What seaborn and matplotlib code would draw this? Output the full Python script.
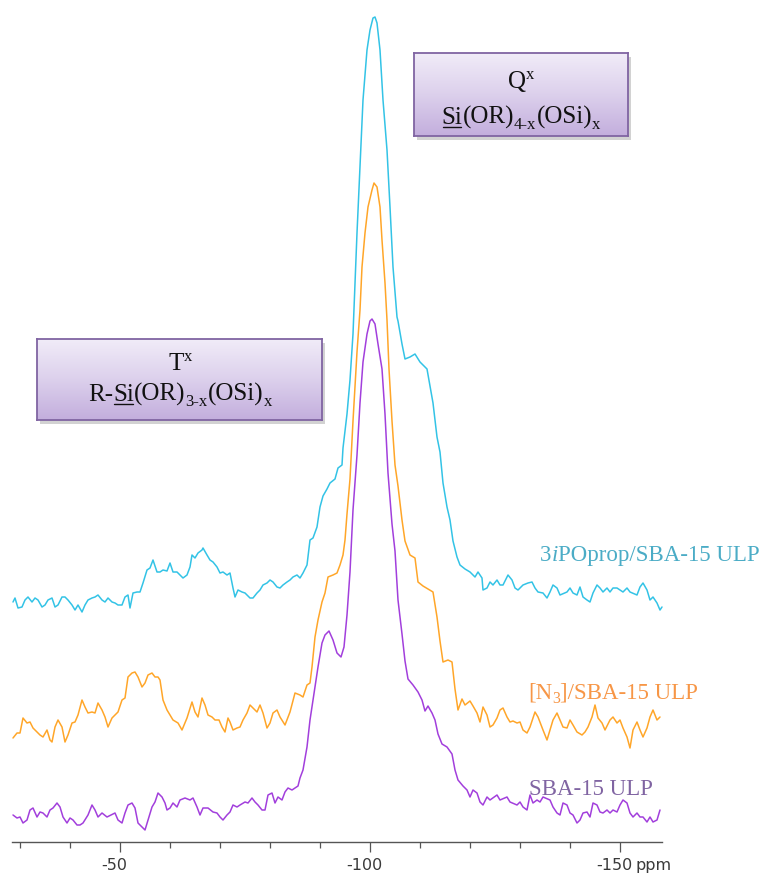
import numpy as np
import matplotlib
matplotlib.use("Agg")
import matplotlib.pyplot as plt
import seaborn as sns
from matplotlib.colors import LinearSegmentedColormap
from matplotlib.patches import Rectangle
from matplotlib.lines import Line2D
from matplotlib.transforms import ScaledTranslation

# ---------------- data (chemical shift in ppm, intensity in a.u.) ----------------
ppm_cyan = [-28.6, -29.0, -29.6, -30.4, -31.0, -31.6, -32.4, -33.0, -33.6, -34.4, -35.0, -35.6, -36.4, -37.0,
            -37.6, -38.4, -39.0, -39.6, -40.4, -41.0, -41.6, -42.4, -43.0, -43.6, -44.4, -45.0, -45.6, -46.4,
            -47.0, -47.6, -48.4, -49.0, -49.6, -50.4, -51.0, -51.6, -52.0, -52.6, -53.4, -54.0, -54.6, -55.4,
            -56.0, -56.6, -57.4, -58.0, -58.6, -59.4, -60.0, -60.6, -61.4, -62.0, -62.6, -63.4, -64.0, -64.4,
            -65.0, -65.6, -66.4, -66.6, -67.4, -68.0, -68.6, -69.4, -70.0, -70.6, -71.4, -72.0, -72.6, -73.0,
            -73.6, -74.4, -75.0, -76.0, -76.6, -77.4, -78.0, -78.6, -79.4, -80.0, -80.6, -81.4, -82.0, -82.6,
            -83.4, -84.0, -84.6, -85.4, -86.0, -86.6, -87.4, -88.0, -88.6, -89.4, -90.0, -90.6, -91.4, -92.0,
            -93.0, -93.6, -94.4, -94.6, -95.4, -96.0, -96.6, -97.4, -98.0, -98.6, -99.4, -100.0, -100.6, -101.0,
            -101.4, -102.0, -102.6, -103.4, -104.0, -104.6, -105.4, -105.6, -106.4, -107.0, -108.0, -109.0,
            -110.0, -110.6, -111.4, -112.0, -112.6, -113.4, -114.0, -114.6, -115.4, -116.0, -116.6, -117.4,
            -118.0, -119.0, -120.0, -121.0, -121.6, -122.4, -122.6, -123.4, -124.0, -124.6, -125.4, -126.0,
            -126.6, -127.6, -128.4, -129.0, -129.6, -130.6, -131.6, -132.4, -133.0, -133.6, -134.6, -135.4,
            -136.0, -136.6, -137.4, -138.0, -139.4, -140.0, -140.6, -141.4, -142.0, -142.6, -143.4, -144.0,
            -144.6, -145.4, -146.0, -146.6, -147.4, -148.0, -148.6, -149.4, -150.0, -150.6, -151.4, -152.0,
            -153.4, -154.0, -154.6, -155.4, -156.0, -156.6, -157.4, -158.0, -158.4]
int_cyan = [-2, 2, -8, -7, 0, 3, -2, 2, 0, -7, -5, 0, 2, -7,
            -5, 3, 3, 0, -5, -10, -5, -12, -5, 0, 2, 3, 5, 0,
            -2, 2, -2, -3, -5, -5, 3, 5, -8, 7, 8, 8, 17, 30,
            32, 40, 28, 28, 30, 29, 37, 28, 28, 25, 22, 25, 33, 45,
            42, 47, 50, 52, 45, 40, 38, 33, 27, 28, 25, 27, 12, 3,
            10, 8, 7, 2, 2, 7, 10, 15, 17, 20, 18, 13, 12, 15,
            18, 20, 23, 25, 22, 27, 35, 60, 62, 73, 93, 104, 111, 117,
            121, 132, 135, 152, 186, 220, 266, 367, 433, 500, 550, 570, 582, 583,
            577, 550, 500, 450, 393, 333, 283, 279, 256, 241, 243, 246,
            238, 235, 231, 214, 197, 163, 148, 117, 93, 80, 59, 43,
            35, 31, 28, 23, 28, 22, 10, 12, 18, 15, 20, 15,
            15, 25, 20, 12, 10, 15, 17, 18, 12, 8, 7, 2,
            8, 15, 12, 5, 8, 12, 7, 5, 13, 3, 0, -2,
            7, 15, 12, 8, 12, 8, 12, 12, 10, 8, 12, 8,
            5, 13, 17, 10, 0, 3, -3, -10, -7]

ppm_orange = [-28.6, -29.4, -30.0, -30.6, -31.4, -32.0, -32.6, -33.4, -34.0, -34.6, -35.4, -36.0, -36.4, -37.0,
              -37.6, -38.4, -39.0, -39.6, -40.4, -41.0, -41.6, -42.4, -43.0, -43.6, -44.4, -45.0, -45.6, -46.4,
              -47.0, -47.6, -48.4, -49.0, -49.6, -50.4, -51.0, -51.6, -52.4, -53.0, -53.6, -54.4, -55.0, -55.6,
              -56.4, -57.0, -57.6, -58.0, -58.6, -59.4, -60.0, -60.6, -61.6, -62.4, -63.4, -64.4, -65.0, -65.6,
              -66.4, -67.0, -67.6, -68.4, -69.0, -69.8, -70.4, -71.0, -71.6, -72.0, -72.6, -73.4, -74.0, -74.6,
              -75.4, -76.0, -76.6, -77.4, -78.0, -78.6, -79.4, -80.0, -80.6, -81.4, -82.0, -83.0, -84.0, -85.0,
              -86.0, -86.6, -87.4, -88.0, -88.4, -89.0, -89.6, -90.4, -91.0, -91.6, -92.6, -93.4, -94.0, -94.6,
              -95.0, -95.4, -96.0, -96.6, -97.4, -98.0, -98.4, -99.0, -99.6, -100.4, -100.8, -101.4, -102.0,
              -102.4, -103.0, -103.4, -103.8, -104.4, -105.0, -105.6, -106.4, -107.0, -108.0, -109.0, -109.6,
              -110.6, -111.6, -112.6, -113.4, -114.0, -114.6, -115.6, -116.4, -117.0, -117.6, -118.4, -119.0,
              -120.0, -120.6, -121.4, -122.0, -122.6, -123.4, -124.0, -124.6, -125.4, -126.0, -126.6, -127.4,
              -128.0, -128.6, -129.4, -130.0, -130.6, -131.4, -132.0, -133.0, -133.6, -134.6, -135.4, -136.0,
              -136.6, -137.4, -138.0, -138.6, -139.4, -140.0, -140.6, -141.4, -142.4, -143.0, -143.6, -144.4,
              -145.0, -145.6, -146.4, -147.0, -148.0, -148.6, -149.4, -150.0, -150.6, -151.4, -152.0, -152.6,
              -153.4, -154.0, -154.6, -155.4, -156.0, -156.6, -157.4, -158.0]
int_orange = [-13, -8, -8, 7, 2, 3, -3, -7, -10, -12, -5, -15, -17, -2,
              5, -2, -17, -10, 2, 3, 10, 25, 18, 12, 13, 12, 22, 15,
              8, -2, 7, 10, 13, 25, 27, 48, 52, 53, 48, 38, 42, 50,
              52, 48, 48, 45, 25, 15, 10, 5, 2, -5, 7, 23, 13, 8,
              27, 20, 10, 8, 5, 5, -2, -7, 7, 3, -5, -3, -2, 5,
              12, 20, 17, 13, 20, 12, -3, 2, 12, 15, 8, 0, 13, 32,
              30, 28, 40, 42, 58, 88, 105, 123, 132, 148, 150, 152, 160, 170,
              185, 211, 246, 304, 373, 415, 458, 492, 518, 535, 542, 538, 518,
              485, 442, 405, 356, 304, 260, 239, 205, 184, 170, 167, 143,
              139, 136, 133, 108, 84, 63, 65, 63, 36, 15, 26, 20,
              24, 19, 12, 3, 18, 10, -2, 0, 7, 15, 17, 8,
              3, 4, 2, 3, -5, -8, -2, 13, 8, -5, -15, -5,
              5, 12, 5, -2, -3, 5, 0, -7, -10, -7, -2, 8,
              20, 7, 2, -5, 5, 8, 2, 5, -3, -12, -23, -5,
              3, -5, -12, -3, 8, 15, 5, 8]

ppm_purple = [-28.6, -29.4, -30.0, -30.6, -31.4, -32.0, -32.6, -33.4, -34.0, -34.6, -35.4, -36.0, -36.6, -37.4,
              -38.0, -38.6, -39.4, -40.0, -40.6, -41.4, -42.0, -42.6, -43.6, -44.4, -45.0, -45.6, -46.4, -47.4,
              -48.2, -49.0, -49.6, -50.4, -51.0, -51.6, -52.4, -53.0, -53.6, -54.4, -55.0, -55.6, -56.4, -57.0,
              -57.6, -58.4, -59.0, -59.4, -60.0, -60.6, -61.4, -62.0, -63.0, -64.0, -64.6, -65.4, -66.0, -66.6,
              -67.6, -68.6, -69.4, -70.0, -70.6, -71.4, -72.0, -72.6, -73.4, -74.0, -75.0, -75.6, -76.4, -77.0,
              -77.6, -78.4, -79.0, -79.6, -80.4, -81.0, -81.6, -82.4, -83.0, -83.6, -84.4, -85.0, -85.6, -86.0,
              -86.6, -87.4, -88.0, -88.6, -89.6, -90.4, -91.0, -91.8, -92.6, -93.4, -94.2, -94.8, -95.4, -96.0,
              -96.6, -97.4, -98.0, -98.6, -99.4, -100.0, -100.4, -101.0, -101.6, -102.4, -103.0, -103.6, -104.4,
              -105.0, -105.6, -106.4, -107.0, -107.6, -108.6, -109.6, -110.4, -111.0, -111.6, -112.4, -113.0,
              -113.6, -114.4, -115.4, -116.4, -117.0, -117.6, -118.6, -119.4, -120.0, -120.6, -121.4, -122.0,
              -122.6, -123.4, -124.0, -125.4, -126.0, -127.4, -128.0, -129.4, -130.0, -130.6, -131.4, -132.0,
              -132.6, -133.4, -134.0, -134.6, -136.0, -136.6, -137.4, -138.0, -138.6, -139.4, -140.0, -140.6,
              -141.4, -142.0, -142.6, -143.4, -144.0, -144.6, -145.4, -146.0, -146.6, -147.4, -148.0, -148.6,
              -149.4, -150.0, -150.6, -151.4, -152.0, -152.6, -153.4, -154.0, -154.6, -155.4, -156.0, -156.6,
              -157.4, -158.0]
int_purple = [-3, -6, -5, -11, -8, 2, 4, -5, 0, -1, -5, 2, 4, 9,
              5, -5, -11, -6, -8, -13, -13, -11, -3, 7, 2, -5, -1, -5,
              -3, -1, -8, -11, -1, 7, 9, 4, -11, -15, -18, -8, 5, 10,
              19, 15, 9, 2, 4, 9, 5, 12, 14, 12, 14, 5, -3, 4,
              4, 0, -1, -5, -8, -3, 0, 7, 5, 7, 10, 9, 14, 10,
              7, 2, 2, 17, 19, 9, 15, 12, 20, 24, 22, 24, 26, 34,
              42, 65, 92, 112, 145, 169, 177, 181, 172, 159, 155, 165, 197, 240,
              302, 357, 409, 450, 478, 491, 493, 488, 468, 443, 398, 339, 288,
              261, 212, 178, 151, 133, 127, 120, 112, 101, 106, 99, 92,
              78, 68, 65, 58, 42, 32, 26, 22, 15, 22, 19, 10,
              7, 15, 12, 17, 12, 15, 10, 7, 10, 5, 2, 17,
              9, 12, 10, 15, 12, 5, -1, -3, 9, 7, -1, -3,
              -11, -8, -1, 0, -5, 9, 7, 0, -1, 2, -1, 2,
              0, 7, 12, 9, -1, -5, -1, -5, -5, -10, -5, -10,
              -8, 2]

series_names = ["3iPOprop/SBA-15 ULP", "[N3]/SBA-15 ULP", "SBA-15 ULP"]
major_ticks = [-50, -100, -150]
major_labels = ["-50", "-100", "-150"]
minor_ticks = [-30, -40, -60, -70, -80, -90, -110, -120, -130, -140]

# ---------------- style ----------------
W, H = 773, 874
sns.set_theme(style="white")
plt.rcParams["font.family"] = ["DejaVu Sans"]

c_cyan, c_orange, c_purple = "#33C3E6", "#FFA629", "#A23FDC"
t_cyan, t_orange, t_purple = "#4BACC6", "#F79646", "#8064A2"
offsets = [242, 117, 30]

fig = plt.figure(figsize=(W / 100, H / 100), dpi=100)
fig.patch.set_facecolor("white")
ax = fig.add_axes([0, 0, 1, 1])
ax.patch.set_visible(False)

for ppm, vals, col, off in [(ppm_cyan, int_cyan, c_cyan, offsets[0]),
                            (ppm_orange, int_orange, c_orange, offsets[1]),
                            (ppm_purple, int_purple, c_purple, offsets[2])]:
    sns.lineplot(x=ppm, y=np.asarray(vals) + off, ax=ax, color=col, lw=1.1,
                 sort=False, estimator=None, legend=False)

ax.set_xlim(-26, -180.6)
ax.set_ylim(-32, 842)
for s in ["left", "right", "top"]:
    ax.spines[s].set_visible(False)
ax.spines["bottom"].set_position(("data", 0))
ax.spines["bottom"].set_bounds(-28.4, -158.4)
ax.spines["bottom"].set_color("#555555")
ax.spines["bottom"].set_linewidth(1.0)
ax.set_yticks([])
ax.set_xticks(major_ticks)
ax.set_xticklabels(major_labels)
ax.set_xticks(minor_ticks, minor=True)
ax.tick_params(axis="x", which="major", direction="out", length=7.2, width=0.9,
               color="#555555", pad=4, labelsize=11.5, labelcolor="#3a3a3a", bottom=True)
ax.tick_params(axis="x", which="minor", direction="out", length=4.3, width=0.9,
               color="#555555", bottom=True)
ax.set_xlabel("")
ax.set_ylabel("")
for lab in ax.get_xticklabels():
    lab.set_transform(lab.get_transform() + ScaledTranslation(-6 / 100, 0, fig.dpi_scale_trans))
ax.annotate("ppm", xy=(-150, 0), xycoords="data", xytext=(11, -(7.2 + 4)),
            textcoords="offset points", ha="left", va="top", fontsize=11.5, color="#3a3a3a")

renderer = fig.canvas.get_renderer()


def rich(pieces, cx, base, color, ha="center"):
    """pieces: (text, size, dy_px, underline, style)"""
    objs, widths = [], []
    for s, size, dy, ul, st in pieces:
        t = fig.text(0, 0, s, fontsize=size, family="Liberation Serif", style=st,
                     va="baseline", ha="left", color=color, zorder=5)
        widths.append(t.get_window_extent(renderer).width)
        objs.append(t)
    total = sum(widths)
    x = cx - total / 2 if ha == "center" else cx
    for t, (s, size, dy, ul, st), w in zip(objs, pieces, widths):
        t.set_position((x / W, (H - (base + dy)) / H))
        if ul:
            fig.add_artist(Line2D([(x + 1) / W, (x + w - 1) / W], [(H - base - 2.5) / H] * 2,
                                  color=color, lw=1.0, zorder=5))
        x += w


def box(x0, y0, x1, y1):
    fig.add_artist(Rectangle(((x0 + 3) / W, (H - y1 - 4) / H), (x1 - x0) / W, (y1 - y0) / H,
                             transform=fig.transFigure, color="#808080", alpha=0.35, zorder=1, lw=0))
    bax = fig.add_axes([x0 / W, (H - y1) / H, (x1 - x0) / W, (y1 - y0) / H], zorder=2)
    cmap = LinearSegmentedColormap.from_list("g", ["#C3AEDD", "#DCD0EC", "#F1ECF8"])
    bax.imshow(np.linspace(0, 1, 256)[:, None], cmap=cmap, aspect="auto",
               extent=[0, 1, 0, 1], origin="lower")
    bax.set_xticks([])
    bax.set_yticks([])
    for sp in bax.spines.values():
        sp.set_color("#8064A2")
        sp.set_linewidth(1.3)


FS = 18
SUB = 12
txt = "#111111"
box(414, 53, 628, 136)
rich([("Q", FS, 0, False, "normal"), ("x", SUB, -9, False, "normal")], 521, 88, txt)
rich([("Si", FS, 0, True, "normal"), ("(OR)", FS, 0, False, "normal"),
      ("4-x", SUB, 5, False, "normal"), ("(OSi)", FS, 0, False, "normal"),
      ("x", SUB, 5, False, "normal")], 521, 124, txt)

box(37, 339, 322, 420)
rich([("T", FS, 0, False, "normal"), ("x", SUB, -9, False, "normal")], 180, 370, txt)
rich([("R-", FS, 0, False, "normal"), ("Si", FS, 0, True, "normal"), ("(OR)", FS, 0, False, "normal"),
      ("3-x", SUB, 5, False, "normal"), ("(OSi)", FS, 0, False, "normal"),
      ("x", SUB, 5, False, "normal")], 180, 401, txt)

LS = 16.5
rich([("3", LS, 0, False, "normal"), ("i", LS, 0, False, "italic"),
      ("POprop/SBA-15 ULP", LS, 0, False, "normal")], 540, 561, t_cyan, ha="left")
rich([("[N", LS, 0, False, "normal"), ("3", 11.5, 4, False, "normal"),
      ("]/SBA-15 ULP", LS, 0, False, "normal")], 528, 699, t_orange, ha="left")
rich([("SBA-15 ULP", LS, 0, False, "normal")], 529, 795, t_purple, ha="left")

fig.savefig("out.png", dpi=100, facecolor="white")
